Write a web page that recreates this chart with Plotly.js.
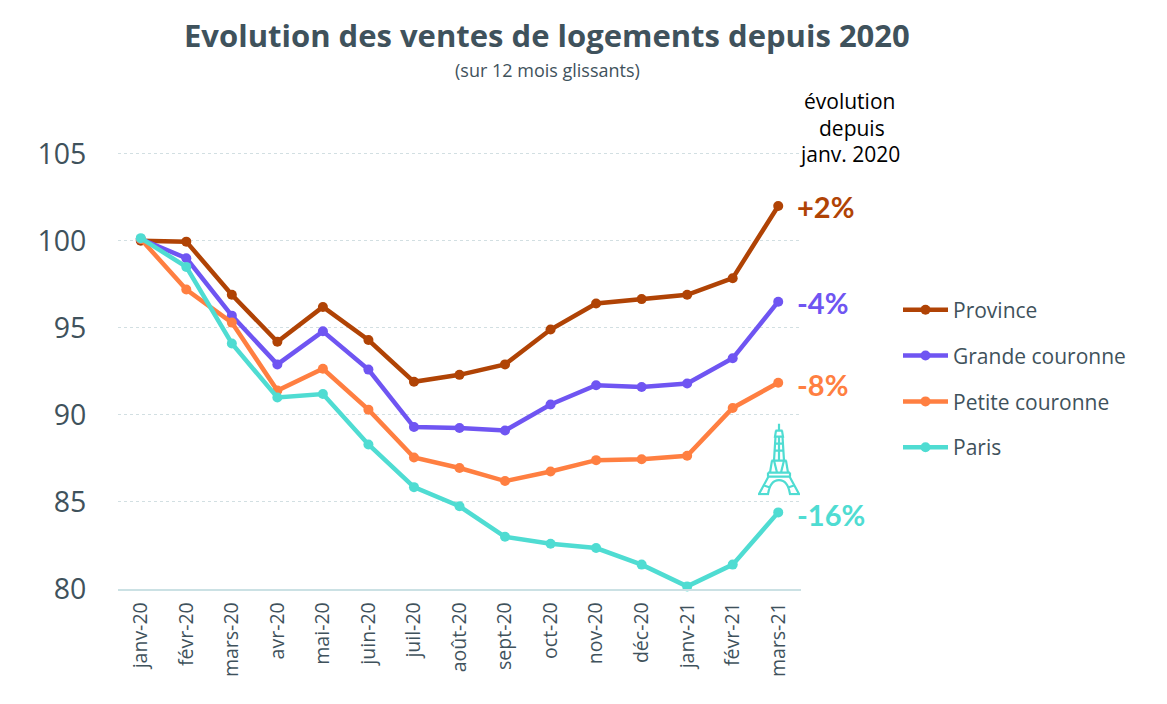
<!DOCTYPE html>
<html><head><meta charset="utf-8">
<script src="https://cdn.plot.ly/plotly-3.0.0.min.js"></script>
<style>html,body{margin:0;padding:0;background:#fff}#c{width:1167px;height:704px}</style></head>
<body><div id="c"></div>
<script>
const months = ["janv-20","févr-20","mars-20","avr-20","mai-20","juin-20","juil-20","août-20","sept-20","oct-20","nov-20","déc-20","janv-21","févr-21","mars-21"];
const province = [100,99.95,96.9,94.2,96.2,94.3,91.9,92.3,92.9,94.9,96.4,96.65,96.9,97.85,102];
const grande = [100.1,99,95.7,92.9,94.8,92.6,89.3,89.25,89.1,90.6,91.7,91.6,91.8,93.25,96.5];
const petite = [100.1,97.2,95.3,91.4,92.65,90.3,87.55,86.95,86.2,86.75,87.4,87.45,87.65,90.4,91.85];
const paris = [100.15,98.5,94.1,91,91.2,88.3,85.85,84.75,83,82.6,82.35,81.4,80.15,81.4,84.4];
const names = ["Province","Grande couronne","Petite couronne","Paris"];
const colors = ["#B04305","#6F55F2","#FF7F41","#4FDCD2"];
const finals = ["+2%","-4%","-8%","-16%"];
const series = [province,grande,petite,paris];
const F = "'Open Sans', sans-serif";
const L = "Lato, sans-serif";
const INK = "#3F525C";

const traces = series.map((v,i)=>({
  x: months, y: v, name: names[i], type:"scatter", mode:"lines+markers",
  legendgroup: names[i],
  line:{color:colors[i],width:4.5}, marker:{color:colors[i],size:10},
  cliponaxis:false, hoverinfo:"skip"
}));

const tower = `<svg xmlns="http://www.w3.org/2000/svg" viewBox="0 0 42 72"><g fill="none" stroke="#4FDCD2" stroke-width="2.2"><path d="M21 0V6M17.5 7h7M18 7l-1 6h8l-1-6M17 13h8M17.5 13l-1.5 24M24.5 13l1.5 24M21 13V37M17 20h8M16.7 27h8.6M13.5 37h15M14 37l-2 12M28 37l2 12M10 49h22M10 53h22M10 49v4M32 49v4M10.5 53L1 70.5H10C11.5 61 16 56.5 21 56.5S30.5 61 32 70.5H41L31.5 53M6 62l6 2M36 62l-6 2M16 37l3 12M26 37l-3 12"/></g></svg>`;

const T = 145.3, B = 589.5, H = B - T;

const ann = [
 {text:"<b>Evolution des ventes de logements depuis 2020</b>",x:547,y:35,size:31,color:INK},
 {text:"(sur 12 mois glissants)",x:547,y:70,size:18,color:INK},
 {text:"évolution",x:849,y:101,size:21,color:"#000"},
 {text:"depuis",x:852,y:128,size:21,color:"#000"},
 {text:"janv. 2020",x:849,y:154,size:21,color:"#000"}
].map(a=>({text:a.text,xref:"paper",yref:"paper",x:(a.x-118)/683,y:(B-a.y)/H,xanchor:"center",yanchor:"middle",showarrow:false,font:{family:F,size:a.size,color:a.color}}));

const labelShift = [-1,-1,-2,-2];
series.forEach((v,i)=>ann.push({
  text:"<b>"+finals[i]+"</b>", x:months[14], y:v[14], xref:"x", yref:"y",
  xanchor:"left", yanchor:"middle", xshift:17, yshift:labelShift[i], showarrow:false,
  font:{family:L,size:29,color:colors[i]}
}));

const layout = {
  width:1167,height:704,autosize:false,
  margin:{l:118,r:366,t:T,b:704-B,pad:0},
  paper_bgcolor:"#fff",plot_bgcolor:"#fff",
  showlegend:true,
  legend:{x:(898-118)/683,y:(B-290)/H,xanchor:"left",yanchor:"top",bgcolor:"rgba(0,0,0,0)",
    font:{family:F,size:21,color:INK},tracegroupgap:15.5,itemwidth:45,traceorder:"grouped"},
  xaxis:{type:"category",categoryorder:"array",categoryarray:months,range:[-0.5,14.5],tickangle:-90,
    tickfont:{family:F,size:19.5,color:INK},ticks:"",ticklabelstandoff:4,showgrid:false,zeroline:false,
    showline:true,linecolor:"#CBE1E4",linewidth:1.5,automargin:false},
  yaxis:{range:[80,105.5],tickvals:[80,85,90,95,100,105],ticktext:["80","85","90","95","100","105"],
    tickfont:{family:F,size:28.5,color:INK},ticks:"outside",ticklen:25,tickcolor:"rgba(0,0,0,0)",showline:false,zeroline:false,
    gridcolor:"#D2DFE2",griddash:"dot",gridwidth:1,automargin:false},
  annotations:ann,
  images:[{source:"data:image/svg+xml;utf8,"+encodeURIComponent(tower),xref:"paper",yref:"paper",
    x:(758-118)/683,y:(B-424)/H,sizex:42/683,sizey:72/H,xanchor:"left",yanchor:"top",sizing:"stretch",layer:"above"}]
};
Plotly.newPlot("c",traces,layout,{displayModeBar:false,staticPlot:true});
</script></body></html>
